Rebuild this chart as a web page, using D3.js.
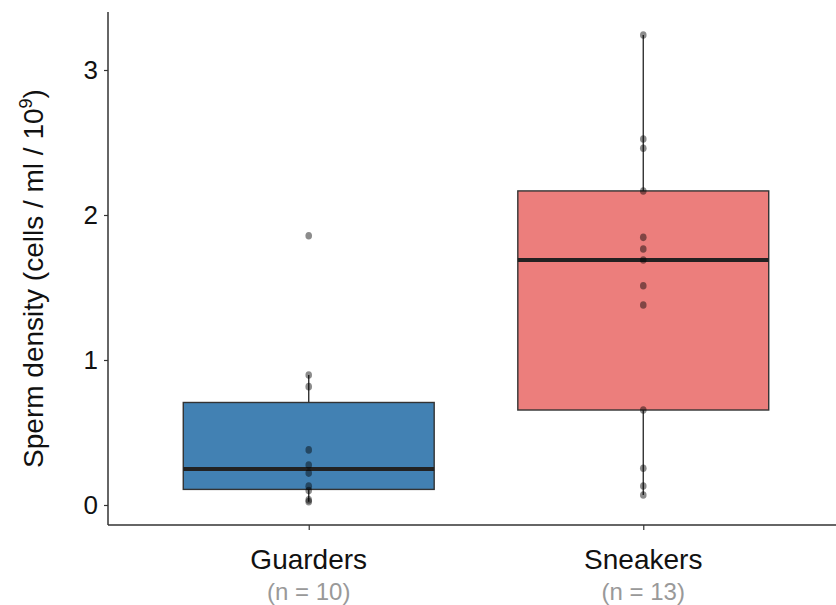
<!DOCTYPE html>
<html>
<head>
<meta charset="utf-8">
<script src="https://cdn.jsdelivr.net/npm/d3@7"></script>
<style>
  html, body { margin: 0; padding: 0; background: #fff; }
  svg { display: block; font-family: "Liberation Sans", Arial, Helvetica, sans-serif; }
</style>
</head>
<body>
<svg id="chart" width="836" height="605"></svg>
<script>
// Sperm density per male, by reproductive tactic (cells / ml / 10^9)
const categories = ["Guarders", "Sneakers"];
const countLabels = ["(n = 10)", "(n = 13)"];
const guarders = [0.023, 0.035, 0.100, 0.130, 0.220, 0.276, 0.380, 0.816, 0.897, 1.857];
const sneakers = [0.069, 0.131, 0.253, 0.655, 1.379, 1.512, 1.690, 1.766, 1.846, 2.166, 2.460, 2.524, 3.241];
const yTicks = [0, 1, 2, 3];
const fills = ["#4281b3", "#ec7e7c"];

const groups = [guarders, sneakers];

const svg = d3.select("#chart");
const mLeft = 108, mRight = 844, mTop = 12, mBottom = 525;

const y = d3.scaleLinear().domain([-0.138, 3.4]).range([mBottom, mTop]);
const x = d3.scalePoint().domain(categories).range([mLeft, mRight]).padding(0.6);
const boxW = x.step() * 0.75;

// Tukey box statistics (R type-7 quantiles)
function stats(vals) {
  const s = vals.slice().sort(d3.ascending);
  const q1 = d3.quantile(s, 0.25), med = d3.quantile(s, 0.5), q3 = d3.quantile(s, 0.75);
  const iqr = q3 - q1;
  const lo = d3.min(s.filter(v => v >= q1 - 1.5 * iqr));
  const hi = d3.max(s.filter(v => v <= q3 + 1.5 * iqr));
  return { q1, med, q3, lo, hi };
}

const plot = svg.append("g");

categories.forEach((cat, i) => {
  const st = stats(groups[i]);
  const cx = x(cat);
  const g = plot.append("g");
  // whiskers
  g.append("line").attr("x1", cx).attr("x2", cx).attr("y1", y(st.q3)).attr("y2", y(st.hi))
    .attr("stroke", "#333").attr("stroke-width", 1.4);
  g.append("line").attr("x1", cx).attr("x2", cx).attr("y1", y(st.q1)).attr("y2", y(st.lo))
    .attr("stroke", "#333").attr("stroke-width", 1.4);
  // box
  g.append("rect").attr("x", cx - boxW / 2).attr("width", boxW)
    .attr("y", y(st.q3)).attr("height", y(st.q1) - y(st.q3))
    .attr("fill", fills[i]).attr("stroke", "#333").attr("stroke-width", 1.4);
  // median
  g.append("line").attr("x1", cx - boxW / 2).attr("x2", cx + boxW / 2)
    .attr("y1", y(st.med)).attr("y2", y(st.med))
    .attr("stroke", "#222").attr("stroke-width", 4);
  // individual observations
  g.selectAll("ellipse").data(groups[i]).join("ellipse")
    .attr("cx", cx).attr("cy", d => y(d)).attr("rx", 3.3).attr("ry", 3.8)
    .attr("fill", "#000").attr("fill-opacity", 0.45);
});

// y axis
const yAxis = d3.axisLeft(y).tickValues(yTicks).tickFormat(d3.format("d")).tickSize(4).tickPadding(6);
const gy = svg.append("g").attr("transform", `translate(${mLeft},0)`).call(yAxis);
gy.select(".domain").attr("d", `M0,${mTop}V${mBottom}`).attr("stroke", "#333").attr("stroke-width", 1.5);
gy.selectAll(".tick line").attr("stroke", "#333").attr("stroke-width", 1.2);
gy.selectAll(".tick text").attr("font-size", 26).attr("fill", "#111")
  .attr("font-family", "'Liberation Sans', Arial, sans-serif");

// x axis
const xAxis = d3.axisBottom(x).tickSize(5).tickFormat("");
const gx = svg.append("g").attr("transform", `translate(0,${mBottom})`).call(xAxis);
gx.select(".domain").attr("d", `M${mLeft},0H836`).attr("stroke", "#333").attr("stroke-width", 1.5);
gx.selectAll(".tick line").attr("stroke", "#333").attr("stroke-width", 1.2);

// category labels with sample sizes
categories.forEach((cat, i) => {
  svg.append("text").attr("x", x(cat)).attr("y", 569).attr("text-anchor", "middle")
    .attr("font-size", 28).attr("fill", "#111").text(cat);
  svg.append("text").attr("x", x(cat)).attr("y", 600).attr("text-anchor", "middle")
    .attr("font-size", 24).attr("fill", "#999").text(countLabels[i]);
});

// y axis title
const title = svg.append("text")
  .attr("transform", `translate(43,${(mTop + mBottom) / 2 + 10}) rotate(-90)`)
  .attr("text-anchor", "middle").attr("font-size", 28).attr("fill", "#111");
title.append("tspan").text("Sperm density (cells / ml / 10");
title.append("tspan").attr("font-size", 18).attr("dy", -11).text("9");
title.append("tspan").attr("dy", 11).text(")");
</script>
</body>
</html>
